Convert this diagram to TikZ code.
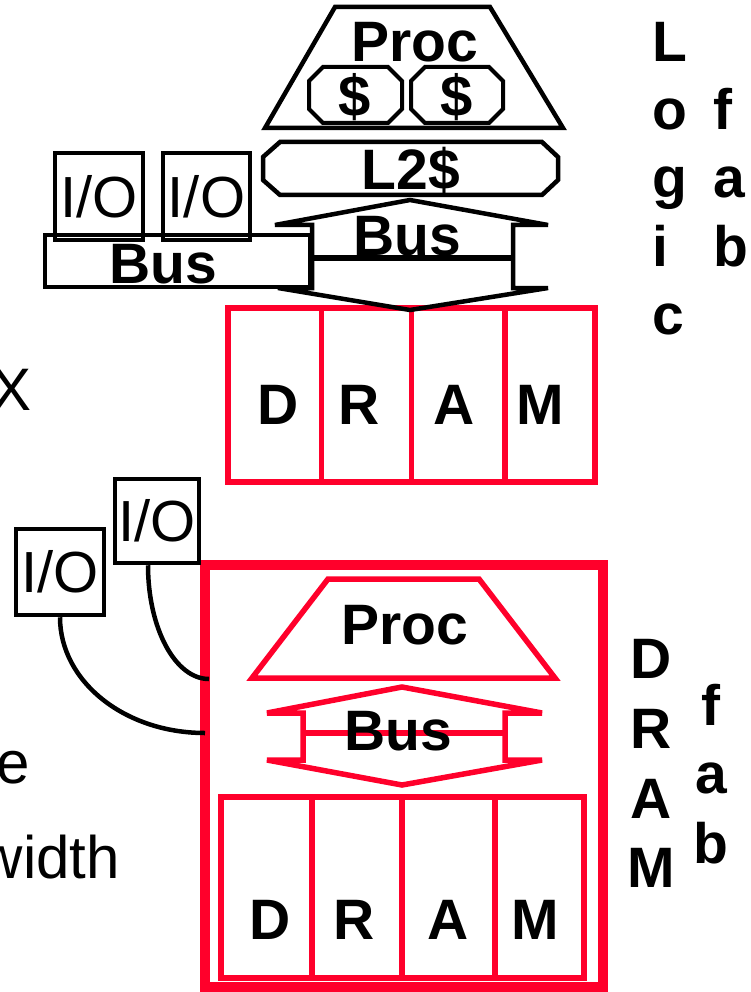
\documentclass[tikz,border=0pt]{standalone}
\usepackage{fontspec}
\setmainfont{Liberation Sans}
\definecolor{dramred}{RGB}{255,0,43}
\begin{document}
\begin{tikzpicture}[x=1pt,y=-1pt,line join=miter,
  blk/.style={draw=black,line width=4.5pt},
  rd/.style={draw=dramred,line width=5.5pt},
  bold/.style={font=\fontsize{57}{57}\selectfont\bfseries,inner sep=0pt},
  cash/.style={font=\fontsize{58}{58}\selectfont\bfseries,inner sep=0pt},
  reg/.style={font=\fontsize{60}{60}\selectfont,inner sep=0pt},
  iobox/.style={draw=black,line width=4.5pt,font=\fontsize{58}{58}\selectfont,inner sep=0pt},
  wire/.style={draw=black,line width=4.5pt}
]
\useasboundingbox (0,0) rectangle (751,992);

% ---------- left text fragments ----------
\node[reg,anchor=base east] (tx) at (32,410) {X};
\node[reg,anchor=base east] (te) at (30,783) {e};
\node[reg,anchor=base east] (tw) at (120,878) {width};

% ---------- top: logic fab ----------
\draw[blk] (335,7) -- (490,7) -- (563,128) -- (265,128) -- cycle;
\node[bold,anchor=base] (proc1) at (415,62) {Proc};
\draw[blk,line width=4pt] (323,67)--(388,67)--(402,81)--(402,109)--(388,123)--(323,123)--(309,109)--(309,81)--cycle;
\draw[blk,line width=4pt] (425,67)--(489,67)--(503,81)--(503,109)--(489,123)--(425,123)--(411,109)--(411,81)--cycle;
\node[cash] (ca1) at (355,97) {\$};
\node[cash] (ca2) at (457,97) {\$};
\draw[blk] (280,142)--(542,142)--(558,157)--(558,180)--(542,195)--(280,195)--(263,180)--(263,157)--cycle;
\node[bold,anchor=base] (l2) at (411,190) {L2\$};

% DRAM (top)
\draw[rd] (228,308) rectangle (595,482);
\draw[rd] (321.6,308) -- (321.6,482);
\draw[rd] (411.5,308) -- (411.5,482);
\draw[rd] (505,308) -- (505,482);
\node[bold,anchor=base] (d1) at (277.6,424) {D};
\node[bold,anchor=base] (r1) at (359,424) {R};
\node[bold,anchor=base] (a1) at (454.5,424) {A};
\node[bold,anchor=base] (m1) at (540,424) {M};

% left bus and I/O
\draw[blk] (45,235) rectangle (310,287);
\node[bold,anchor=base] (bus0) at (163,283) {Bus};
\node[iobox,minimum width=88pt,minimum height=87pt] (io1) at (99,196.5) {I/O};
\node[iobox,minimum width=87pt,minimum height=87pt] (io2) at (206.5,196.5) {I/O};

% bus arrow (top)
\draw[blk] (410,200) -- (548,225) -- (513,225) -- (513,288) -- (548,288) -- (410,310) -- (278,288) -- (312,288) -- (312,225) -- (275,225) -- cycle;
\draw[blk,line width=6.5pt] (312,258) -- (513,258);
\node[bold,anchor=base] (bus1) at (407,255) {Bus};

% right labels (top)
\node[bold,anchor=base west] (lL) at (652,62) {L};
\node[bold,anchor=base west] (lo) at (652,130) {o};
\node[bold,anchor=base west] (lg) at (652,198) {g};
\node[bold,anchor=base west] (li) at (652,266) {i};
\node[bold,anchor=base west] (lc) at (652,334) {c};
\node[bold,anchor=base west] (lf) at (713,130) {f};
\node[bold,anchor=base west] (la) at (713,198) {a};
\node[bold,anchor=base west] (lb) at (713,266) {b};

% ---------- bottom: DRAM fab ----------
\draw[rd,line width=10pt] (204.5,565) rectangle (603,987);
\draw[rd] (328,579) -- (479,579) -- (555,678) -- (252,678) -- cycle;
\node[bold,anchor=base] (proc2) at (405,644) {Proc};

\draw[rd] (402,687) -- (542,713) -- (505,713) -- (505,760) -- (542,760) -- (402,785) -- (267,760) -- (303,760) -- (303,713) -- (267,713) -- cycle;
\draw[rd,line width=6.5pt] (303,733) -- (505,733);
\node[bold,anchor=base] (bus2) at (398,750) {Bus};

\draw[rd] (221,797) rectangle (584,978);
\draw[rd] (312,797) -- (312,978);
\draw[rd] (402,797) -- (402,978);
\draw[rd] (495,797) -- (495,978);
\node[bold,anchor=base] (d2) at (270,939) {D};
\node[bold,anchor=base] (r2) at (354,939) {R};
\node[bold,anchor=base] (a2) at (448,939) {A};
\node[bold,anchor=base] (m2) at (535,939) {M};

% I/O boxes and wires
\node[iobox,minimum width=84pt,minimum height=84pt] (io3) at (157,521) {I/O};
\node[iobox,minimum width=88pt,minimum height=86pt] (io4) at (60,572) {I/O};
\coordinate (w1) at (209,679);
\coordinate (w2) at (205,733);
\draw[wire] (io3.south) ++(-9,0) .. controls (148,628) and (175,679) .. (w1);
\draw[wire] (io4.south) .. controls (60,681) and (124,733) .. (w2);

% right labels (bottom)
\node[bold,anchor=base] (rD) at (651,678) {D};
\node[bold,anchor=base] (rR) at (651,748) {R};
\node[bold,anchor=base] (rA) at (651,818) {A};
\node[bold,anchor=base] (rM) at (651,887) {M};
\node[bold,anchor=base] (rf) at (711,725) {f};
\node[bold,anchor=base] (ra) at (711,793) {a};
\node[bold,anchor=base] (rb) at (711,863) {b};
\end{tikzpicture}
\end{document}
